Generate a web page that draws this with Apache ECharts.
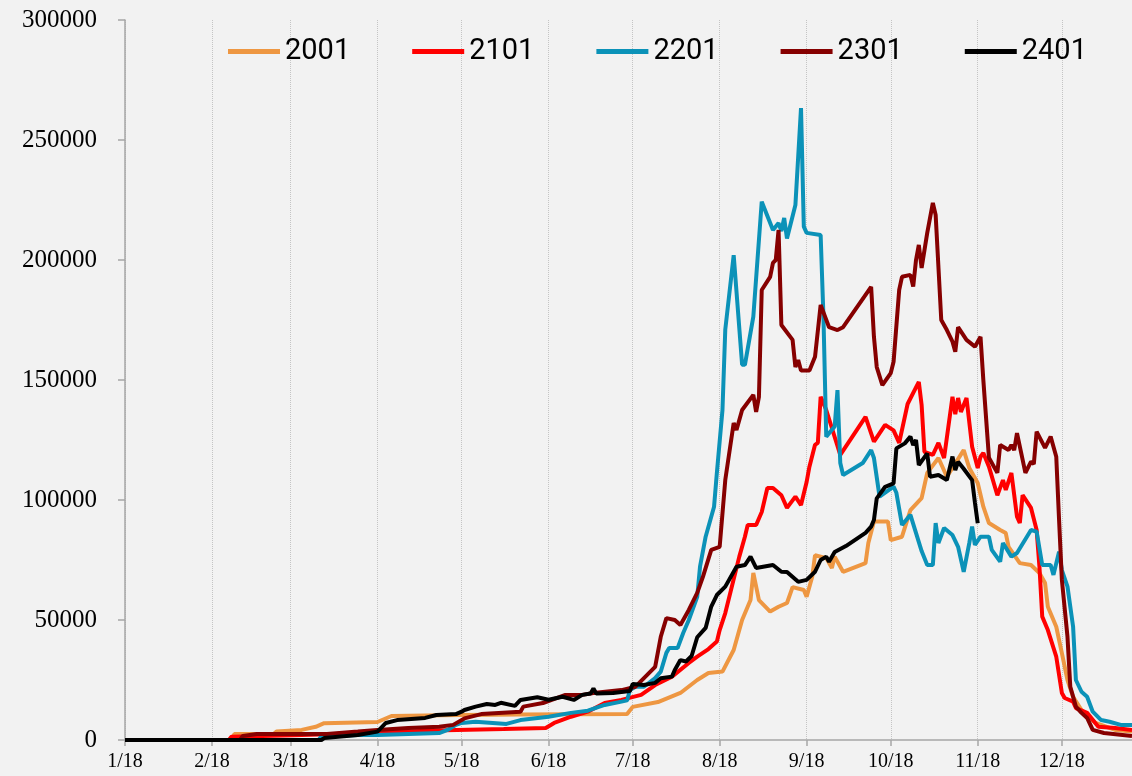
<!DOCTYPE html>
<html>
<head>
<meta charset="utf-8">
<script src="https://cdn.jsdelivr.net/npm/echarts@6/dist/echarts.min.js"></script>
<style>
  html, body { margin: 0; padding: 0; background: #f2f2f2; }
  #main { width: 1132px; height: 776px; }
</style>
</head>
<body>
<div id="main"></div>
<script>
// 每日数据：x 为自 1/18 起的天数，y 为数值
var names = ['2001', '2101', '2201', '2301', '2401'];
var colors = ['#ee9742', '#ff0000', '#0b92b8', '#860000', '#000000'];
var yTicks = [0, 50000, 100000, 150000, 200000, 250000, 300000];

var s2001 = [[0,0],[38,0],[39,2500],[53,2500],[54,3500],[63,4200],[68,5500],[71,7000],[90,7500],[95,10000],[119,10400],[141,10600],[179,10800],[181,13800],[190,15800],[198,19600],[204,25000],[208,27900],[213,28500],[217,37500],[220,50000],[223,58300],[224,69600],[226,58300],[230,53500],[233,55500],[236,57100],[238,63700],[242,62500],[243,59700],[245,68000],[246,77000],[250,75800],[252,71700],[253,76400],[256,70100],[264,73700],[265,82100],[267,91000],[272,91000],[273,83300],[277,84700],[280,95800],[284,100800],[286,111300],[290,117500],[293,109700],[299,120800],[301,113300],[304,107100],[306,97200],[308,90400],[312,87500],[314,86200],[315,80500],[319,73700],[323,72900],[326,69600],[328,65400],[329,55500],[332,47200],[334,36200],[336,25000],[338,18000],[341,12500],[346,7100],[353,4200],[359,3500]];

var s2101 = [[0,0],[37,0],[38,1400],[60,2000],[90,3000],[110,4000],[135,4600],[150,5000],[153,7100],[159,9700],[165,11800],[171,15400],[177,16700],[184,18800],[189,22900],[195,26400],[201,32100],[204,34700],[208,37900],[211,41000],[212,45800],[214,52900],[219,76400],[221,84700],[222,89600],[225,89600],[227,95000],[229,105000],[231,105000],[234,102000],[236,96700],[239,101400],[241,97900],[243,107500],[244,113900],[246,123000],[247,123800],[248,143000],[250,137500],[252,130000],[255,118800],[264,134600],[267,124300],[271,131300],[274,129000],[276,123800],[279,140000],[283,149200],[284,139600],[285,120100],[288,118800],[290,123800],[292,117500],[295,143000],[296,135800],[297,142500],[298,136700],[300,142500],[302,122200],[304,113300],[305,118000],[306,119600],[308,113900],[311,102000],[313,108300],[314,104200],[316,111300],[318,93000],[319,90400],[320,102000],[323,96700],[325,87500],[326,72200],[327,51400],[329,45800],[332,34700],[334,19600],[335,17500],[338,16000],[339,13300],[343,11300],[347,5500],[353,5000],[359,4200]];

var s2201 = [[0,0],[69,0],[70,1500],[85,2200],[90,2100],[112,2900],[115,4200],[118,6300],[120,7100],[125,7600],[136,6700],[141,8300],[151,9700],[159,11300],[165,12200],[171,14600],[177,16000],[179,16500],[180,20800],[182,22200],[185,22200],[189,25800],[191,28500],[193,36300],[194,38300],[197,38300],[199,44600],[201,50000],[204,59700],[205,72200],[207,84700],[210,97200],[211,111300],[213,137500],[214,171000],[217,202000],[220,156400],[221,156300],[224,176400],[227,224300],[231,212500],[233,215400],[234,212000],[235,217500],[236,209000],[239,222900],[241,263300],[242,213900],[243,211300],[248,210400],[249,176400],[250,126400],[253,130600],[254,145800],[255,115400],[256,110400],[263,115400],[266,120800],[267,117500],[269,101400],[274,105600],[275,103000],[277,89600],[280,93800],[284,78700],[286,72900],[288,72900],[289,90400],[290,82100],[292,88300],[295,85400],[297,80500],[299,70100],[301,82100],[302,88900],[303,81300],[305,84700],[308,84700],[309,79200],[312,74300],[313,82100],[316,76400],[318,77900],[323,87500],[325,86800],[327,72900],[330,72900],[331,68800],[333,78500],[334,70800],[336,63900],[338,47200],[339,25000],[341,20100],[343,18000],[345,11800],[348,8300],[351,7600],[355,6300],[359,6300]];

var s2301 = [[0,0],[41,0],[42,1700],[47,2500],[72,2500],[83,3500],[90,4200],[101,5000],[112,5500],[117,6300],[121,9000],[127,10800],[141,11800],[142,13900],[149,15400],[157,18800],[163,18800],[167,19600],[177,20800],[182,22200],[185,25800],[189,30500],[191,43000],[193,50800],[196,50000],[198,47900],[199,50000],[201,54200],[204,61300],[206,67900],[209,79200],[212,80500],[214,108300],[217,132100],[218,129200],[220,137500],[224,143800],[225,136700],[226,143000],[227,187500],[230,193000],[231,198800],[232,200000],[233,212500],[234,172900],[238,166700],[239,155400],[240,158300],[241,154000],[244,154000],[246,159700],[248,181300],[251,172000],[254,170800],[256,172000],[266,188800],[267,168000],[268,155400],[270,147900],[273,152900],[274,157600],[276,187500],[277,193000],[280,193800],[281,188900],[282,200000],[283,206300],[284,196700],[286,211300],[288,223800],[289,218800],[291,175000],[293,170800],[295,166000],[296,161800],[297,172000],[300,166700],[303,163900],[305,168000],[306,150000],[308,117600],[311,111300],[312,122900],[315,120800],[316,122900],[317,120800],[318,127900],[321,111300],[323,116000],[324,115000],[325,128500],[328,121700],[330,126400],[332,118000],[333,91700],[334,66700],[336,43000],[337,22200],[339,13900],[341,11300],[343,9200],[345,4200],[349,2900],[359,1700]];

var s2401 = [[0,0],[70,0],[71,800],[83,2100],[90,3500],[93,7100],[97,8300],[107,9200],[111,10400],[118,10800],[120,11800],[121,12500],[125,13900],[129,15000],[132,14600],[134,15500],[139,14200],[141,16700],[147,17800],[151,16800],[156,18000],[160,16700],[163,18800],[166,19400],[167,21500],[168,19400],[174,19600],[180,20400],[181,23300],[185,22900],[189,23800],[191,25700],[195,26400],[196,29200],[198,33300],[200,32700],[202,35000],[204,42800],[207,46700],[209,55600],[211,60400],[214,63900],[218,72200],[221,72900],[223,76400],[225,71700],[228,72300],[231,72900],[234,70100],[236,70000],[240,65900],[243,66700],[246,70100],[248,75000],[250,76400],[251,74300],[253,78300],[257,80800],[264,86300],[266,88900],[267,91700],[268,100700],[271,105500],[274,106900],[275,121500],[278,123600],[280,126400],[281,122900],[282,125000],[283,114600],[286,119400],[287,109700],[290,110400],[293,108300],[295,118100],[296,112500],[297,115900],[299,113000],[302,108300],[303,99000],[304,90300]];

var seriesData = [s2001, s2101, s2201, s2301, s2401];

// 日期类目：1/18 起共 360 天（平年）
var days = [];
var start = new Date(2023, 0, 18);
for (var i = 0; i < 360; i++) {
  var d = new Date(start.getFullYear(), start.getMonth(), start.getDate() + i);
  days.push((d.getMonth() + 1) + '/' + d.getDate());
}
function isMonthTick(index, value) {
  return /\/18$/.test(value);
}

var myChart = echarts.init(document.getElementById('main'));
myChart.setOption({
  backgroundColor: '#f2f2f2',
  animation: false,
  color: colors,
  grid: {
    left: 125,
    right: 0,
    top: 20,
    bottom: 36
  },
  legend: {
    data: names,
    left: 228,
    top: 37,
    width: 900,
    padding: 0,
    icon: 'rect',
    itemWidth: 52,
    itemHeight: 5,
    itemGap: 62,
    textStyle: {
      color: '#000',
      fontSize: 29,
      fontFamily: 'Roboto, sans-serif'
    }
  },
  xAxis: {
    type: 'category',
    data: days,
    boundaryGap: false,
    axisLine: {
      lineStyle: { color: '#a6a6a6', width: 1.5 }
    },
    axisTick: {
      interval: isMonthTick,
      length: 6,
      lineStyle: { color: '#a6a6a6', width: 1.5 }
    },
    axisLabel: {
      interval: isMonthTick,
      margin: 12,
      color: '#000',
      fontSize: 20,
      fontFamily: '"Liberation Serif", "Times New Roman", serif'
    },
    splitLine: {
      show: true,
      interval: isMonthTick,
      lineStyle: { color: '#c4c4c4', type: 'dotted', width: 1 }
    }
  },
  yAxis: {
    type: 'value',
    min: yTicks[0],
    max: yTicks[yTicks.length - 1],
    interval: 50000,
    axisLine: {
      show: true,
      lineStyle: { color: '#a6a6a6', width: 1.5 }
    },
    axisTick: {
      show: true,
      length: 7,
      lineStyle: { color: '#a6a6a6', width: 1.5 }
    },
    axisLabel: {
      margin: 28,
      color: '#000',
      fontSize: 25,
      fontFamily: '"Liberation Serif", "Times New Roman", serif',
      formatter: function (v) { return String(v); }
    },
    splitLine: { show: false }
  },
  series: names.map(function (name, k) {
    return {
      name: name,
      type: 'line',
      data: seriesData[k],
      showSymbol: false,
      symbol: 'none',
      lineStyle: { width: 4, color: colors[k] },
      itemStyle: { color: colors[k] }
    };
  })
});
</script>
</body>
</html>
